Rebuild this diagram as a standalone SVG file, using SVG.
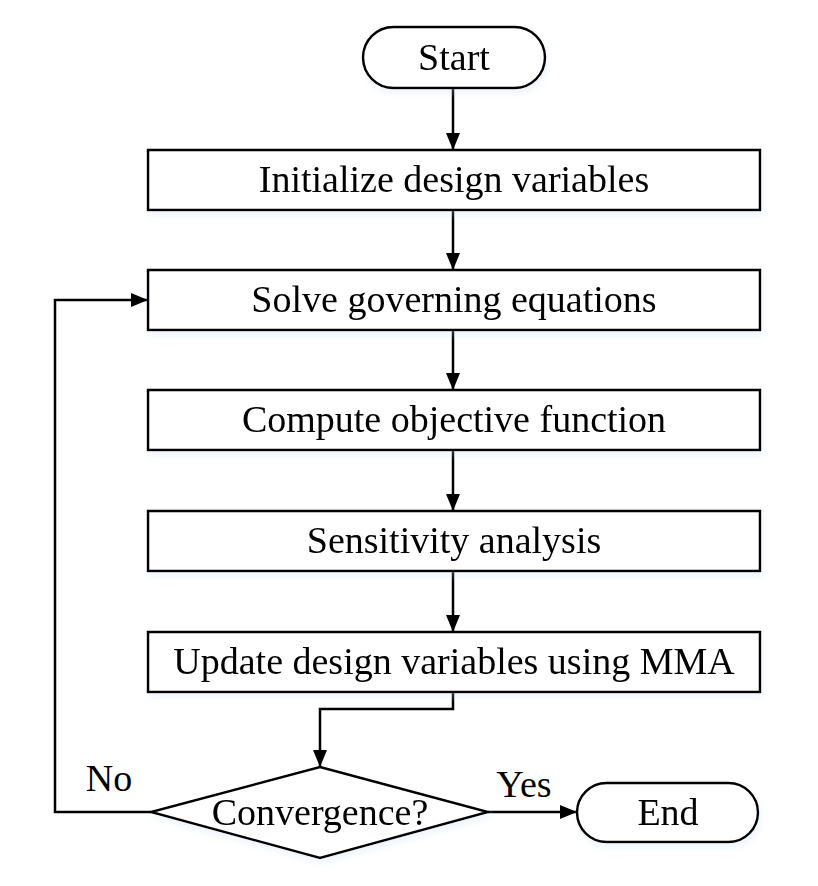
<svg xmlns="http://www.w3.org/2000/svg" width="818" height="886" viewBox="0 0 818 886">
<style>
.n{fill:#fff;stroke:#000;stroke-width:2.5}
.t{font-family:"Liberation Serif","Times New Roman",serif;font-size:38px;fill:#000;text-anchor:middle}
.c{fill:none;stroke:#000;stroke-width:2.5}
</style>
<defs>
<marker id="a" viewBox="0 0 17 14" refX="17" refY="7" markerWidth="17" markerHeight="14" markerUnits="userSpaceOnUse" orient="auto">
<path d="M0,0 L17,7 L0,14 Z" fill="#000"/>
</marker>
<filter id="s" x="-10%" y="-10%" width="120%" height="140%">
<feGaussianBlur in="SourceAlpha" stdDeviation="3"/>
<feOffset dx="2" dy="5"/>
<feComponentTransfer><feFuncA type="linear" slope="0.25"/></feComponentTransfer>
<feColorMatrix type="matrix" values="0 0 0 0 0.55  0 0 0 0 0.7  0 0 0 0 0.9  0 0 0 1 0"/>
<feMerge><feMergeNode/><feMergeNode in="SourceGraphic"/></feMerge>
</filter>
</defs>
<rect width="818" height="886" fill="#fff"/>
<g id="connectors">
<line class="c" x1="453" y1="88" x2="453" y2="150" marker-end="url(#a)"/>
<line class="c" x1="453" y1="210" x2="453" y2="270" marker-end="url(#a)"/>
<line class="c" x1="453" y1="330" x2="453" y2="390" marker-end="url(#a)"/>
<line class="c" x1="453" y1="450" x2="453" y2="511" marker-end="url(#a)"/>
<line class="c" x1="453" y1="571" x2="453" y2="632" marker-end="url(#a)"/>
<polyline class="c" points="453,692 453,709 320,709 320,767" marker-end="url(#a)"/>
<polyline class="c" points="151,812 55,812 55,300 148,300" marker-end="url(#a)"/>
<line class="c" x1="488" y1="812" x2="577" y2="812" marker-end="url(#a)"/>
<text class="t" x="109" y="791">No</text>
<text class="t" x="524" y="797">Yes</text>
</g>
<g id="start" filter="url(#s)">
<rect class="n" x="363" y="27" width="182" height="61" rx="30.5"/>
<text class="t" x="454" y="70">Start</text>
</g>
<g id="init" filter="url(#s)">
<rect class="n" x="148" y="150" width="612" height="60"/>
<text class="t" x="454" y="192">Initialize design variables</text>
</g>
<g id="solve" filter="url(#s)">
<rect class="n" x="148" y="270" width="612" height="60"/>
<text class="t" x="454" y="312">Solve governing equations</text>
</g>
<g id="compute" filter="url(#s)">
<rect class="n" x="148" y="390" width="612" height="60"/>
<text class="t" x="454" y="432">Compute objective function</text>
</g>
<g id="sens" filter="url(#s)">
<rect class="n" x="148" y="511" width="612" height="60"/>
<text class="t" x="454" y="553">Sensitivity analysis</text>
</g>
<g id="update" filter="url(#s)">
<rect class="n" x="148" y="632" width="612" height="60"/>
<text class="t" x="454" y="674">Update design variables using MMA</text>
</g>
<g id="conv" filter="url(#s)">
<polygon class="n" points="320,767 488,812 320,858 151,812"/>
<text class="t" x="320" y="825">Convergence?</text>
</g>
<g id="end" filter="url(#s)">
<rect class="n" x="577" y="783" width="181" height="59" rx="29.5"/>
<text class="t" x="668" y="825">End</text>
</g>
</svg>
